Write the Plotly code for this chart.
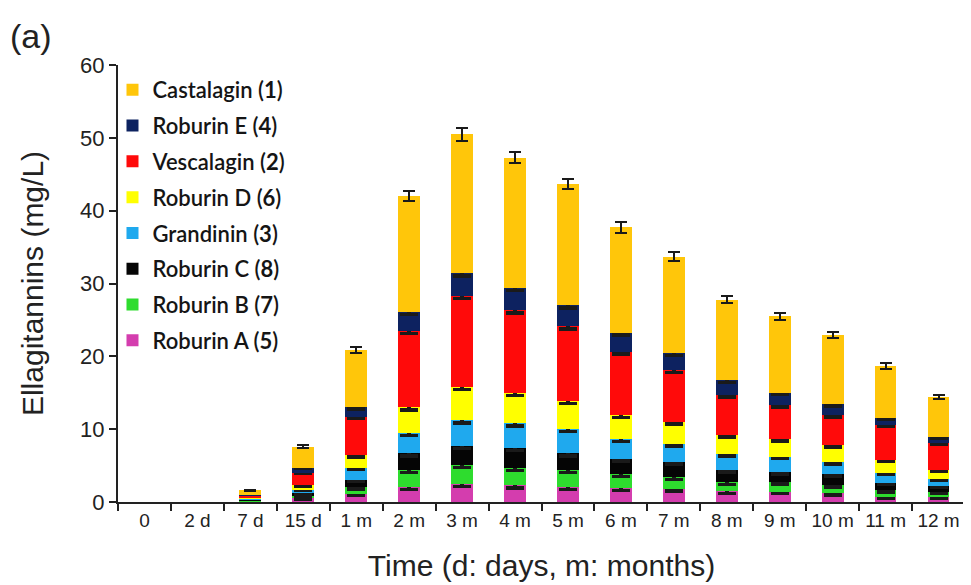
import numpy as np
import plotly.graph_objects as go

categories = ["0", "2 d", "7 d", "15 d", "1 m", "2 m", "3 m", "4 m", "5 m", "6 m",
              "7 m", "8 m", "9 m", "10 m", "11 m", "12 m"]

roburin_a = [0, 0, 0.1, 0.5, 1.1, 2.1, 2.5, 2.3, 2.1, 1.9, 1.8, 1.5, 1.4, 1.2, 0.7, 0.7]
roburin_b = [0, 0, 0.1, 0.3, 0.9, 2.3, 2.6, 2.4, 2.3, 1.9, 1.6, 1.2, 1.3, 1.1, 0.9, 0.7]
roburin_c = [0, 0, 0.2, 0.4, 1.0, 2.3, 2.6, 2.7, 2.3, 2.1, 2.1, 1.7, 1.4, 1.5, 1.0, 0.8]
grandinin = [0, 0, 0.1, 0.5, 1.7, 2.8, 3.5, 3.4, 3.3, 2.7, 2.5, 2.2, 2.1, 1.7, 1.4, 1.0]
roburin_d = [0, 0, 0.1, 0.6, 1.7, 3.5, 4.6, 4.2, 3.9, 3.3, 3.0, 2.6, 2.4, 2.3, 1.8, 1.2]
vescalagin = [0, 0, 0.3, 1.7, 5.3, 10.5, 12.5, 11.3, 10.2, 8.7, 7.1, 5.5, 4.7, 4.1, 4.8, 3.7]
roburin_e = [0, 0, 0.1, 0.7, 1.3, 2.6, 3.1, 3.1, 2.9, 2.6, 2.3, 2.0, 1.7, 1.5, 0.9, 0.8]
castalagin = [0, 0, 0.6, 2.9, 7.9, 15.9, 19.1, 17.9, 16.7, 14.5, 13.3, 11.1, 10.5, 9.5, 7.2, 5.5]
total_err = [np.nan, np.nan, 0.1, 0.2, 0.4, 0.7, 0.9, 0.8, 0.7, 0.7, 0.6, 0.5, 0.5, 0.4, 0.4, 0.3]
seg_err = [np.nan, np.nan, np.nan, 0.08, 0.2, 0.35, 0.35, 0.35, 0.35, 0.3, 0.3, 0.3, 0.25, 0.25, 0.2, 0.15]

series = [
    ("Roburin A (<b>5</b>)", roburin_a, "#D43DAE"),
    ("Roburin B (<b>7</b>)", roburin_b, "#2EDC2E"),
    ("Roburin C (<b>8</b>)", roburin_c, "#050505"),
    ("Grandinin (<b>3</b>)", grandinin, "#1FA9EE"),
    ("Roburin D (<b>6</b>)", roburin_d, "#FFFF00"),
    ("Vescalagin (<b>2</b>)", vescalagin, "#FF0A0A"),
    ("Roburin E (<b>4</b>)", roburin_e, "#0D2260"),
    ("Castalagin (<b>1</b>)", castalagin, "#FFC60A"),
]

fig = go.Figure()
n = len(series)
for i, (name, vals, col) in enumerate(series):
    top = i == n - 1
    fig.add_trace(go.Bar(
        x=categories, y=vals, name=name, marker=dict(color=col, line=dict(width=0)),
        legendgroup=name, legendrank=n - i,
        error_y=dict(type="data",
                     array=np.array(total_err if top else seg_err, dtype=float),
                     visible=True, color="#1a1a1a", thickness=2 if top else 3.5,
                     width=6 if top else 9),
    ))

fig.update_layout(
    barmode="stack",
    bargap=0.59,
    width=963, height=577,
    margin=dict(l=110, r=6, t=57, b=83),
    plot_bgcolor="white", paper_bgcolor="white",
    font=dict(family="Liberation Sans, Arial", color="#222"),
    legend=dict(
        x=-0.0065, y=0.991, xanchor="left", yanchor="top",
        traceorder="grouped", tracegroupgap=4.2,
        font=dict(family="Lato", size=22, color="#151515", weight=600),
        bgcolor="rgba(0,0,0,0)",
    ),
    xaxis=dict(
        type="category", range=[-0.5, 15.5],
        showline=True, linecolor="#222", linewidth=2,
        ticks="outside", tickson="boundaries", ticklen=7, tickwidth=2, tickcolor="#222",
        tickfont=dict(size=19, family="Liberation Sans, Arial"),
        title=dict(text="Time (d: days, m: months)", font=dict(size=30), standoff=25),
    ),
    yaxis=dict(
        range=[0, 60], dtick=10,
        showline=True, linecolor="#222", linewidth=2, showgrid=False, zeroline=False,
        ticks="outside", ticklen=7, tickwidth=2, tickcolor="#222",
        tickfont=dict(size=22),
        title=dict(text="Ellagitannins (mg/L)", font=dict(size=30), standoff=28),
    ),
    annotations=[dict(text="(a)", xref="paper", yref="paper", x=-0.13, y=1.115,
                      xanchor="left", yanchor="top", showarrow=False,
                      font=dict(size=34, color="#222"))],
)

fig.write_html("out.html")
